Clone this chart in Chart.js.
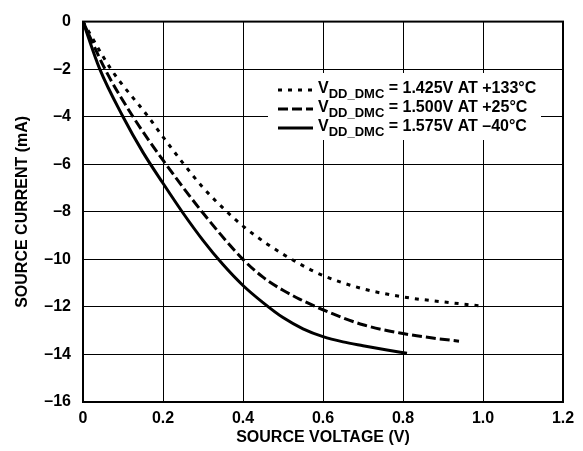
<!DOCTYPE html>
<html>
<head>
<meta charset="utf-8">
<script src="https://cdn.jsdelivr.net/npm/chart.js@4.4.0/dist/chart.umd.min.js"></script>
<style>
  html, body { margin: 0; padding: 0; background: #fff; }
</style>
</head>
<body>
<canvas id="chart" width="583" height="451"></canvas>
<script>
// source voltage (V) / source current (mA)
const hotVolts  = [0, 0.07, 0.163, 0.2, 0.25, 0.3, 0.363, 0.4, 0.46, 0.5425, 0.6, 0.7, 0.8, 0.9, 0.99];
const hotAmps   = [0, -2, -4, -4.85, -5.95, -6.98, -8.05, -8.6, -9.35, -10.2, -10.68, -11.24, -11.58, -11.79, -11.95];
const roomVolts = [0, 0.055, 0.125, 0.2, 0.3, 0.4, 0.45, 0.5, 0.5425, 0.6, 0.7, 0.8, 0.87, 0.94];
const roomAmps  = [0, -2, -4, -5.83, -8.05, -10, -10.75, -11.3, -11.68, -12.12, -12.75, -13.12, -13.3, -13.44];
const coldVolts = [0, 0.042, 0.1, 0.15, 0.2, 0.25, 0.3, 0.35, 0.4, 0.45, 0.5, 0.55, 0.6, 0.65, 0.7, 0.76, 0.81];
const coldAmps  = [0, -2, -4, -5.5, -6.8, -8.05, -9.2, -10.22, -11.1, -11.82, -12.45, -12.92, -13.25, -13.47, -13.63, -13.81, -13.95];

const xTicks = [0, 0.2, 0.4, 0.6, 0.8, 1.0, 1.2];
const yTicks = [0, -2, -4, -6, -8, -10, -12, -14, -16];

const seriesLabels = [
  ['V', 'DD_DMC', ' = 1.425V AT +133°C'],
  ['V', 'DD_DMC', ' = 1.500V AT +25°C'],
  ['V', 'DD_DMC', ' = 1.575V AT \u201340°C']
];

const FONT = '"Liberation Sans", Arial, sans-serif';

function pts(xs, ys) {
  return xs.map((x, i) => ({ x: x, y: ys[i] }));
}

// legend box sitting inside the plot, with subscripts
const legendBox = {
  id: 'legendBox',
  afterDatasetsDraw(chart) {
    const ctx = chart.ctx;
    ctx.save();
    ctx.fillStyle = '#fff';
    ctx.fillRect(268, 73, 273, 67);
    const rows = [89, 108, 127];
    chart.data.datasets.forEach((ds, i) => {
      const y = rows[i];
      ctx.strokeStyle = '#000';
      ctx.lineWidth = ds.borderWidth;
      ctx.setLineDash(ds.borderDash || []);
      ctx.beginPath();
      ctx.moveTo(278, y + 1);
      ctx.lineTo(313, y + 1);
      ctx.stroke();
      ctx.setLineDash([]);
      const parts = seriesLabels[i];
      ctx.fillStyle = '#000';
      ctx.textBaseline = 'middle';
      ctx.textAlign = 'left';
      let x = 318;
      ctx.font = 'bold 16px ' + FONT;
      ctx.fillText(parts[0], x, y);
      x += ctx.measureText(parts[0]).width;
      ctx.font = 'bold 13px ' + FONT;
      ctx.fillText(parts[1], x, y + 5);
      x += ctx.measureText(parts[1]).width;
      ctx.font = 'bold 16px ' + FONT;
      ctx.fillText(parts[2], x, y);
    });
    ctx.restore();
  },
  afterDraw(chart) {
    const a = chart.chartArea;
    const ctx = chart.ctx;
    ctx.save();
    ctx.strokeStyle = '#000';
    ctx.lineWidth = 2;
    ctx.strokeRect(a.left, a.top, a.right - a.left, a.bottom - a.top);
    ctx.restore();
  }
};

new Chart(document.getElementById('chart'), {
  type: 'line',
  data: {
    datasets: [
      {
        data: pts(hotVolts, hotAmps),
        borderColor: '#000',
        borderWidth: 3,
        borderDash: [4, 6],
        pointRadius: 0,
        cubicInterpolationMode: 'monotone',
        fill: false
      },
      {
        data: pts(roomVolts, roomAmps),
        borderColor: '#000',
        borderWidth: 3,
        borderDash: [10, 4],
        pointRadius: 0,
        cubicInterpolationMode: 'monotone',
        fill: false
      },
      {
        data: pts(coldVolts, coldAmps),
        borderColor: '#000',
        borderWidth: 3,
        pointRadius: 0,
        cubicInterpolationMode: 'monotone',
        fill: false
      }
    ]
  },
  options: {
    responsive: false,
    animation: false,
    layout: { padding: { top: 16, right: 20, left: 0, bottom: 0 } },
    plugins: {
      legend: { display: false },
      tooltip: { enabled: false }
    },
    scales: {
      x: {
        type: 'linear',
        min: 0,
        max: 1.2,
        afterFit(scale) { scale.height = 49; },
        afterBuildTicks(scale) { scale.ticks = xTicks.map(v => ({ value: v })); },
        grid: { color: '#000', lineWidth: 1, drawTicks: false },
        border: { display: false },
        ticks: {
          padding: 7,
          color: '#000',
          font: { family: FONT, size: 16, weight: 'bold' },
          callback: v => v === 0 ? '0' : v.toFixed(1)
        },
        title: {
          display: true,
          text: 'SOURCE VOLTAGE (V)',
          color: '#000',
          padding: { top: 4, bottom: 4 },
          font: { family: FONT, size: 16, weight: 'bold' }
        }
      },
      y: {
        type: 'linear',
        min: -16,
        max: 0,
        afterFit(scale) { scale.width = 83; },
        afterBuildTicks(scale) { scale.ticks = yTicks.map(v => ({ value: v })); },
        grid: { color: '#000', lineWidth: 1, drawTicks: false },
        border: { display: false },
        ticks: {
          padding: 12,
          color: '#000',
          font: { family: FONT, size: 16, weight: 'bold' },
          callback: v => v < 0 ? '\u2013' + Math.abs(v) : '0'
        },
        title: {
          display: true,
          text: 'SOURCE CURRENT (mA)',
          color: '#000',
          padding: { top: 13, bottom: 4 },
          font: { family: FONT, size: 16, weight: 'bold' }
        }
      }
    }
  },
  plugins: [legendBox]
});
</script>
</body>
</html>
